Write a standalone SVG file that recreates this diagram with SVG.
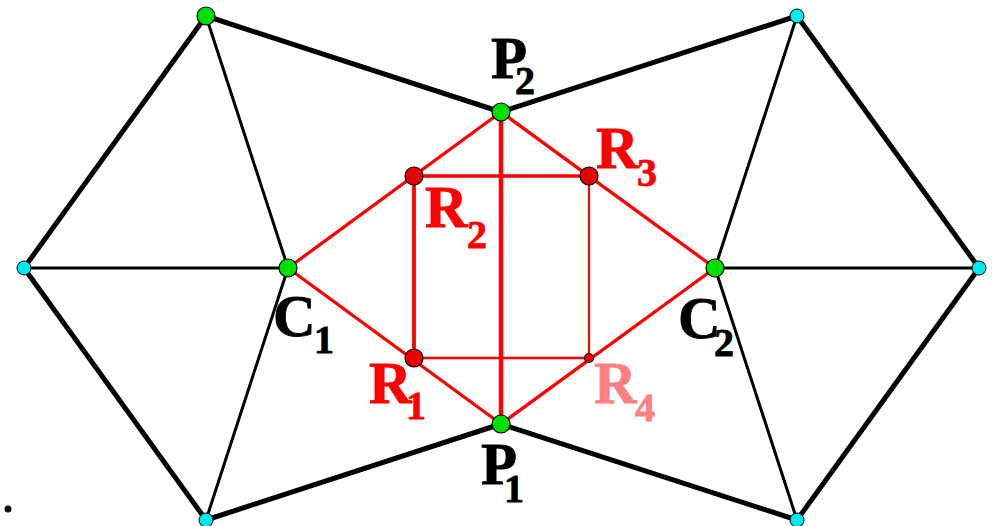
<svg xmlns="http://www.w3.org/2000/svg" width="992" height="526" viewBox="0 0 992 526">
<style>
.thick{stroke:#000;stroke-width:5;stroke-linecap:round;fill:none}
.thin{stroke:#000;stroke-width:3;stroke-linecap:round;fill:none}
.red{stroke:#f00;stroke-width:3.3;stroke-linecap:round;fill:none}
.green{fill:#00e000;stroke:#000;stroke-width:1.2}
.cyan{fill:#00e8f0;stroke:#000;stroke-width:1}
.rn{fill:#e80000;stroke:#000;stroke-width:1.2}
.lbl{font-family:"Liberation Serif","Times New Roman",serif;font-weight:bold;font-size:59px;fill:#000;stroke:#000;stroke-width:0.8}
.sub{font-size:40px}
.r{fill:#f00;stroke:#f00}
.r4{fill:#ff8080;stroke:#ff8080}
</style>
<rect width="992" height="526" fill="#fff"/>
<g id="connectors">
<line class="thick" x1="206" y1="16" x2="501" y2="112"/>
<line class="thick" x1="206" y1="16" x2="24" y2="268"/>
<line class="thin" x1="206" y1="16" x2="288" y2="268"/>
<line class="thin" x1="24" y1="268" x2="288" y2="268"/>
<line class="thick" x1="24" y1="268" x2="206" y2="520"/>
<line class="thin" x1="206" y1="520" x2="288" y2="268"/>
<line class="thick" x1="206" y1="520" x2="501" y2="424"/>
<line class="thick" x1="797" y1="16" x2="501" y2="112"/>
<line class="thick" x1="797" y1="16" x2="979" y2="268"/>
<line class="thin" x1="797" y1="16" x2="715" y2="268"/>
<line class="thin" x1="979" y1="268" x2="715" y2="268"/>
<line class="thick" x1="979" y1="268" x2="797" y2="520"/>
<line class="thin" x1="797" y1="520" x2="715" y2="268"/>
<line class="thick" x1="797" y1="520" x2="501" y2="424"/>
<line class="red" x1="288" y1="268" x2="501" y2="112"/>
<line class="red" x1="288" y1="268" x2="501" y2="424"/>
<line class="red" x1="715" y1="268" x2="501" y2="112"/>
<line class="red" x1="715" y1="268" x2="501" y2="424"/>
<line class="red" x1="414" y1="176" x2="589" y2="176"/>
<line class="red" x1="414" y1="358" x2="589" y2="358" style="stroke-width:2.6"/>
<line class="red" x1="414" y1="176" x2="414" y2="358" style="stroke-width:3.8"/>
<line class="red" x1="589" y1="176" x2="589" y2="358" style="stroke-width:2.2"/>
<line class="red" x1="501" y1="112" x2="501" y2="424" style="stroke-width:4.5"/>
</g>
<g id="n-tl"><circle class="green" cx="206" cy="16" r="9"/></g>
<g id="n-tr"><circle class="cyan" cx="797" cy="16" r="7"/></g>
<g id="n-l"><circle class="cyan" cx="24" cy="268" r="7"/></g>
<g id="n-r"><circle class="cyan" cx="979" cy="268" r="7"/></g>
<g id="n-bl"><circle class="cyan" cx="206" cy="520" r="7"/></g>
<g id="n-br"><circle class="cyan" cx="797" cy="520" r="7"/></g>
<g id="P2"><circle class="green" cx="501" cy="112" r="9"/><text class="lbl" x="491" y="78">P<tspan class="sub" x="515" y="94">2</tspan></text></g>
<g id="P1"><circle class="green" cx="501" cy="424" r="9"/><text class="lbl" x="481" y="484">P<tspan class="sub" x="504" y="502">1</tspan></text></g>
<g id="C1"><circle class="green" cx="288" cy="268" r="9"/><text class="lbl" x="273" y="336">C<tspan class="sub" x="314" y="353">1</tspan></text></g>
<g id="C2"><circle class="green" cx="715" cy="268" r="9"/><text class="lbl" x="678" y="338">C<tspan class="sub" x="714" y="356">2</tspan></text></g>
<g id="R2"><circle class="rn" cx="414" cy="176" r="9"/><text class="lbl r" x="425" y="227">R<tspan class="sub" x="467" y="248">2</tspan></text></g>
<g id="R3"><circle class="rn" cx="589" cy="176" r="9"/><text class="lbl r" x="596" y="168">R<tspan class="sub" x="637" y="186">3</tspan></text></g>
<g id="R1"><circle class="rn" cx="414" cy="358" r="9"/><text class="lbl r" x="369" y="403">R<tspan class="sub" x="406" y="419">1</tspan></text></g>
<g id="R4"><circle class="rn" cx="589" cy="358" r="4.5"/><text class="lbl r4" x="594" y="403">R<tspan class="sub" x="635" y="421">4</tspan></text></g>
<g id="dot"><circle cx="8" cy="509" r="3.5" fill="#000"/></g>
</svg>
